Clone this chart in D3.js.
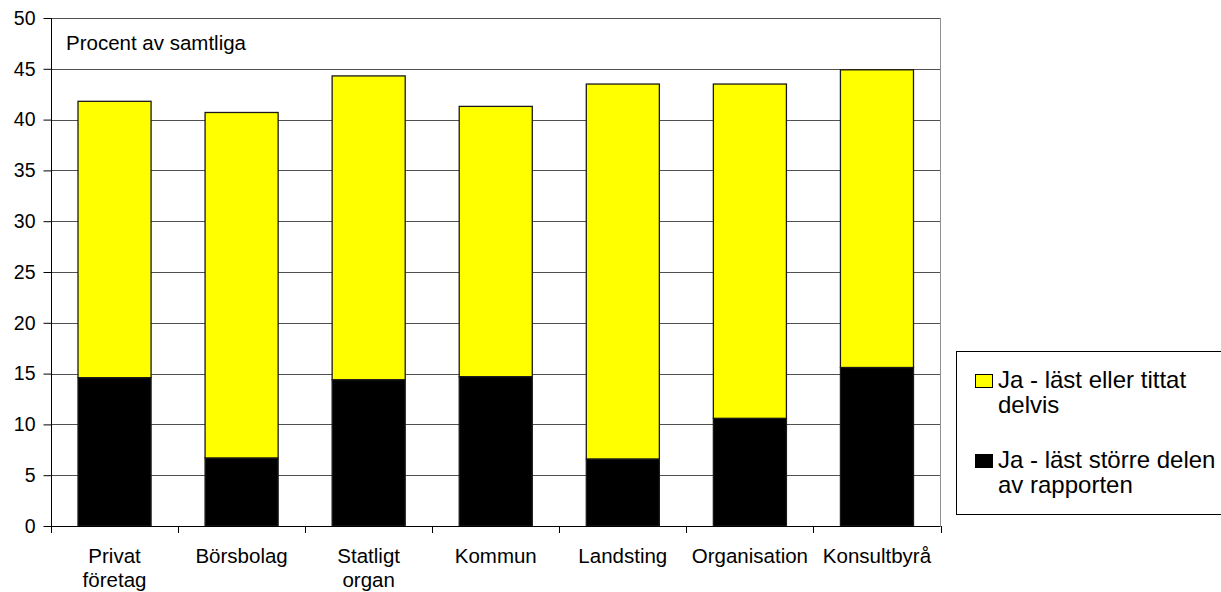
<!DOCTYPE html>
<html>
<head>
<meta charset="utf-8">
<script src="https://cdn.jsdelivr.net/npm/d3@7"></script>
<style>
  body { margin: 0; background: #fff; }
  svg { display: block; font-family: Arial, "Liberation Sans", sans-serif; }
</style>
</head>
<body>
<svg id="chart" width="1221" height="592"></svg>
<script>
// categories and the two stacked series (percent)
var categories = ["Privat\nföretag", "Börsbolag", "Statligt\norgan", "Kommun", "Landsting", "Organisation", "Konsultbyrå"];
var storreDelen = [14.6, 6.7, 14.4, 14.7, 6.6, 10.6, 15.6];
var delvis = [27.2, 34.0, 29.9, 26.6, 36.9, 32.9, 29.3];
var yTicks = [0, 5, 10, 15, 20, 25, 30, 35, 40, 45, 50];
var seriesNames = ["Ja - läst eller tittat\ndelvis", "Ja - läst större delen\nav rapporten"];
var seriesColors = ["#ffff00", "#000000"];

var svg = d3.select("#chart");
var margin = { left: 51, top: 18, right: 940.5, bottom: 526 };

var x = d3.scaleBand()
    .domain(d3.range(categories.length))
    .range([margin.left, margin.right])
    .paddingInner(0.425)
    .paddingOuter(0.2125);
var y = d3.scaleLinear().domain([0, 50]).range([margin.bottom, margin.top]);

var rows = categories.map(function(c, i) { return { i: i, black: storreDelen[i], yellow: delvis[i] }; });
var stack = d3.stack().keys(["black", "yellow"])(rows);

// gridlines
svg.append("g").selectAll("line")
    .data(yTicks.filter(function(d) { return d > 0; }))
  .enter().append("line")
    .attr("x1", margin.left).attr("x2", margin.right)
    .attr("y1", function(d) { return Math.round(y(d)) + 0.5; })
    .attr("y2", function(d) { return Math.round(y(d)) + 0.5; })
    .attr("stroke", "#505050")
    .attr("stroke-width", 1);

// right border of plot
svg.append("line")
    .attr("x1", margin.right).attr("x2", margin.right)
    .attr("y1", y(50)).attr("y2", y(0))
    .attr("stroke", "#909090");

svg.append("text")
    .attr("x", 66).attr("y", 50)
    .attr("font-size", 20.5)
    .text("Procent av samtliga");

// bars
svg.append("g").selectAll("g")
    .data(stack)
  .enter().append("g")
    .attr("fill", function(d) { return d.key === "black" ? "#000" : "#ffff00"; })
    .selectAll("rect")
    .data(function(d) { return d; })
  .enter().append("rect")
    .attr("x", function(d) { return x(d.data.i); })
    .attr("width", x.bandwidth())
    .attr("y", function(d) { return y(d[1]); })
    .attr("height", function(d) { return y(d[0]) - y(d[1]); })
    .attr("stroke", "#1a1a1a")
    .attr("stroke-width", 1.3);

// y axis
var yAxis = d3.axisLeft(y).tickValues(yTicks).tickSize(8).tickPadding(8);
var gy = svg.append("g").attr("transform", "translate(" + (margin.left + 0.5) + ",0)").call(yAxis);
gy.selectAll("text").attr("font-size", 19.5).attr("font-family", "Arial, 'Liberation Sans', sans-serif").attr("fill", "#000");
gy.selectAll("line, path").attr("stroke", "#000");
gy.select(".domain").attr("d", "M0," + y(50) + "V" + y(0));

// x axis baseline and ticks between categories
var band = (margin.right - margin.left) / categories.length;
svg.append("line")
    .attr("x1", margin.left).attr("x2", margin.right)
    .attr("y1", Math.round(y(0)) + 0.5).attr("y2", Math.round(y(0)) + 0.5)
    .attr("stroke", "#000");
svg.append("g").selectAll("line")
    .data(d3.range(categories.length + 1))
  .enter().append("line")
    .attr("x1", function(d) { return Math.round(margin.left + d * band) + 0.5; })
    .attr("x2", function(d) { return Math.round(margin.left + d * band) + 0.5; })
    .attr("y1", y(0)).attr("y2", y(0) + 7)
    .attr("stroke", "#000");

svg.append("g").selectAll("text")
    .data(categories)
  .enter().append("text")
    .attr("x", function(d, i) { return x(i) + x.bandwidth() / 2; })
    .attr("y", 563)
    .attr("text-anchor", "middle")
    .attr("font-size", 20.5)
    .each(function(d) {
      var t = d3.select(this);
      d.split("\n").forEach(function(line, k) {
        t.append("tspan").attr("x", t.attr("x")).attr("dy", k ? 24 : 0).text(line);
      });
    });

// legend
var legend = svg.append("g");
legend.append("rect")
    .attr("x", 956.5).attr("y", 351.5).attr("width", 280).attr("height", 163)
    .attr("fill", "#fff").attr("stroke", "#000");
seriesNames.forEach(function(name, k) {
  var top = 374 + k * 80;
  legend.append("rect")
      .attr("x", 975.5).attr("y", top + 0.5).attr("width", 17).attr("height", 13)
      .attr("fill", seriesColors[k]).attr("stroke", "#000");
  var t = legend.append("text").attr("x", 998).attr("y", top + 14).attr("font-size", 24);
  name.split("\n").forEach(function(line, j) {
    t.append("tspan").attr("x", 998).attr("dy", j ? 25 : 0).text(line);
  });
});
</script>
</body>
</html>
